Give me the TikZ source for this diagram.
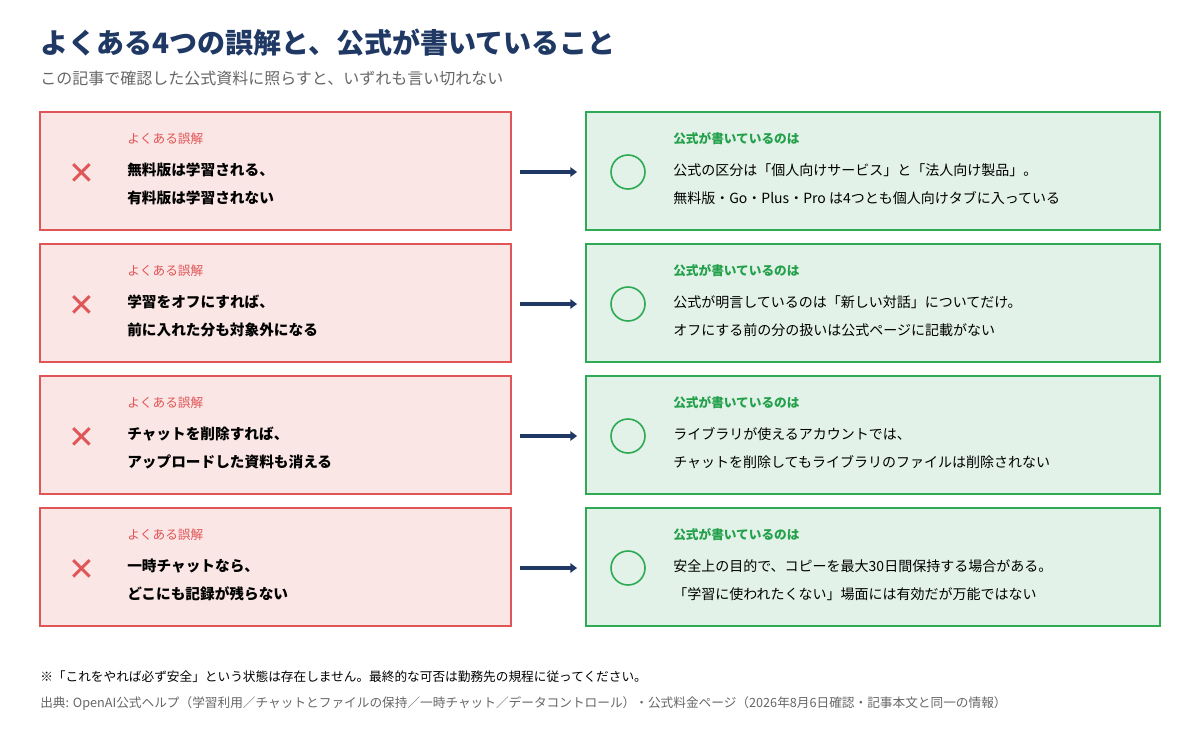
\documentclass[tikz,border=0pt]{standalone}
\usepackage{fontspec}
\setmainfont{Noto Sans CJK JP}
\newfontfamily\dejavu{DejaVu Sans}
\usetikzlibrary{arrows.meta}
\definecolor{navy}{HTML}{1F3864}
\definecolor{rb}{HTML}{E05555}
\definecolor{rf}{HTML}{FBE6E6}
\definecolor{gb}{HTML}{2EAA55}
\definecolor{gf}{HTML}{E2F2E8}
\definecolor{gt}{HTML}{22A04A}
\definecolor{grey}{HTML}{666666}
\tikzset{
 px/.style={x=0.75pt,y=-0.75pt},
 bad/.style={draw=rb,fill=rf,line width=1.5pt},
 good/.style={draw=gb,fill=gf,line width=1.5pt},
 lbl/.style={anchor=west,inner sep=0pt,font=\fontsize{9.5pt}{11pt}\selectfont},
 body/.style={anchor=west,inner sep=0pt,align=left,font=\fontsize{11pt}{21pt}\selectfont\bfseries},
 rbody/.style={anchor=west,inner sep=0pt,align=left,font=\fontsize{10.5pt}{21pt}\selectfont},
 arr/.style={navy,line width=2.6pt,-{Triangle[length=5pt,width=7pt]}},
}
\begin{document}
\begin{tikzpicture}[px]
\useasboundingbox (0,0) rectangle (1200,733);
\node[anchor=west,inner sep=0pt,text=navy,font=\fontsize{21pt}{24pt}\selectfont\bfseries] (title) at (40,43) {よくある4つの誤解と、公式が書いていること};
\node[anchor=west,inner sep=0pt,text=grey,font=\fontsize{12pt}{14pt}\selectfont] (sub) at (40,78) {この記事で確認した公式資料に照らすと、いずれも言い切れない};
\foreach \i/\top/\la/\lb/\ra/\rbb in {
 1/112/無料版は学習される、/有料版は学習されない/公式の区分は「個人向けサービス」と「法人向け製品」。/無料版・Go・Plus・Pro は4つとも個人向けタブに入っている,
 2/244/学習をオフにすれば、/前に入れた分も対象外になる/公式が明言しているのは「新しい対話」についてだけ。/オフにする前の分の扱いは公式ページに記載がない,
 3/376/チャットを削除すれば、/アップロードした資料も消える/ライブラリが使えるアカウントでは、/チャットを削除してもライブラリのファイルは削除されない,
 4/508/一時チャットなら、/どこにも記録が残らない/安全上の目的で、コピーを最大30日間保持する場合がある。/「学習に使われたくない」場面には有効だが万能ではない}{
 \draw[bad] (40,\top) rectangle (511,\top+118);
 \node[inner sep=0pt,minimum size=1pt] (L\i) at (511,\top+60) {};
 \draw[good] (586,\top) rectangle (1160,\top+118);
 \node[inner sep=0pt,minimum size=1pt] (R\i) at (586,\top+60) {};
 \node[lbl,text=rb] (bl\i) at (127,\top+27) {よくある誤解};
 \node[text=rb,font=\dejavu\fontsize{24pt}{24pt}\selectfont\bfseries,inner sep=0pt] (x\i) at (82,\top+62) {✕};
 \node[body] (bt\i) at (127,\top+72) {\la\\\lb};
 \node[lbl,text=gt,font=\fontsize{9.5pt}{11pt}\selectfont\bfseries] (gl\i) at (673,\top+27) {公式が書いているのは};
 \node[draw=gb,line width=1.2pt,circle,minimum size=25.5pt,inner sep=0pt] (c\i) at (628,\top+60) {};
 \node[rbody] (gt\i) at (673,\top+72) {\ra\\\rbb};
 \draw[arr] ([xshift=6pt]L\i.east) -- ([xshift=-6pt]R\i.west);
}
\node[anchor=west,inner sep=0pt,font=\fontsize{9.5pt}{11pt}\selectfont] (note) at (40,677) {※「これをやれば必ず安全」という状態は存在しません。最終的な可否は勤務先の規程に従ってください。};
\node[anchor=west,inner sep=0pt,text=grey,font=\fontsize{9.5pt}{11pt}\selectfont] (src) at (40,704) {出典: OpenAI公式ヘルプ（学習利用／チャットとファイルの保持／一時チャット／データコントロール）・公式料金ページ（2026年8月6日確認・記事本文と同一の情報）};
\end{tikzpicture}
\end{document}
